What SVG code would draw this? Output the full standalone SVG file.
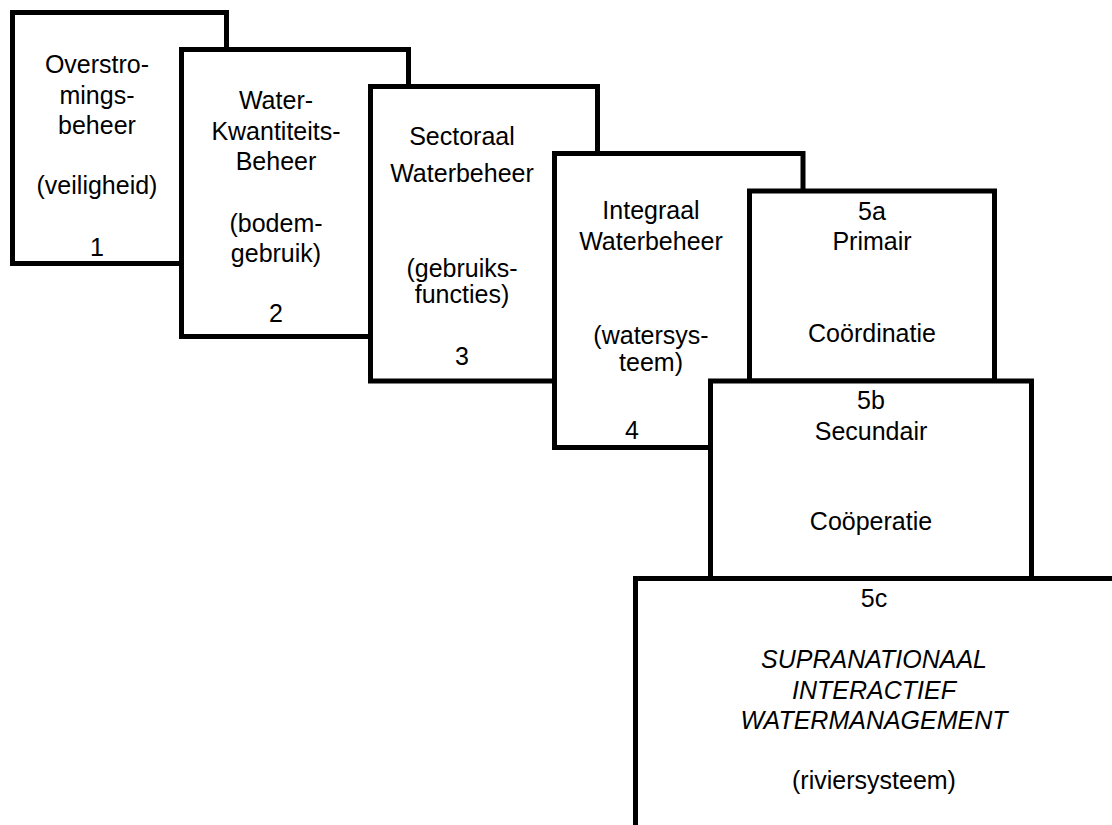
<svg xmlns="http://www.w3.org/2000/svg" width="1112" height="825" viewBox="0 0 1112 825">
<style>
.box{fill:#fff;stroke:#000;stroke-width:5;stroke-linejoin:miter}
text{font-family:"Liberation Sans",Arial,sans-serif;font-size:25px;fill:#000;text-anchor:middle}
.it{font-style:italic}
</style>
<rect width="1112" height="825" fill="#fff"/>
<g id="node1">
<rect class="box" x="12.5" y="12.5" width="214" height="251"/>
<text x="97" y="73">Overstro-</text>
<text x="97" y="103.5">mings-</text>
<text x="97" y="134">beheer</text>
<text x="97" y="194">(veiligheid)</text>
<text x="97" y="255.5">1</text>
</g>
<g id="node2">
<rect class="box" x="181.5" y="49.5" width="227" height="287"/>
<text x="276" y="108.5">Water-</text>
<text x="276" y="139.5">Kwantiteits-</text>
<text x="276" y="170">Beheer</text>
<text x="276" y="232">(bodem-</text>
<text x="276" y="262">gebruik)</text>
<text x="276" y="322">2</text>
</g>
<g id="node3">
<rect class="box" x="370.5" y="86.5" width="227" height="294.5"/>
<text x="462" y="145">Sectoraal</text>
<text x="462" y="182">Waterbeheer</text>
<text x="462" y="277">(gebruiks-</text>
<text x="462" y="303">functies)</text>
<text x="462" y="365">3</text>
</g>
<g id="node4">
<rect class="box" x="554.5" y="153.5" width="248.5" height="294"/>
<text x="651" y="218.5">Integraal</text>
<text x="651" y="250">Waterbeheer</text>
<text x="651" y="344">(watersys-</text>
<text x="651" y="371">teem)</text>
<text x="632" y="439">4</text>
</g>
<g id="node5a">
<rect class="box" x="749.5" y="191" width="245" height="190"/>
<text x="872" y="220">5a</text>
<text x="872" y="250">Primair</text>
<text x="872" y="341.5">Coördinatie</text>
</g>
<g id="node5b">
<rect class="box" x="710.5" y="381" width="321" height="197.5"/>
<text x="871" y="408.5">5b</text>
<text x="871" y="440">Secundair</text>
<text x="871" y="530">Coöperatie</text>
</g>
<g id="node5c">
<rect class="box" x="635.5" y="578.5" width="500" height="300"/>
<text x="874" y="607">5c</text>
<text class="it" x="874" y="668">SUPRANATIONAAL</text>
<text class="it" x="874" y="698.5">INTERACTIEF</text>
<text class="it" x="874" y="728.5">WATERMANAGEMENT</text>
<text x="874" y="788.5">(riviersysteem)</text>
</g>
<g id="connectors"/>
</svg>
